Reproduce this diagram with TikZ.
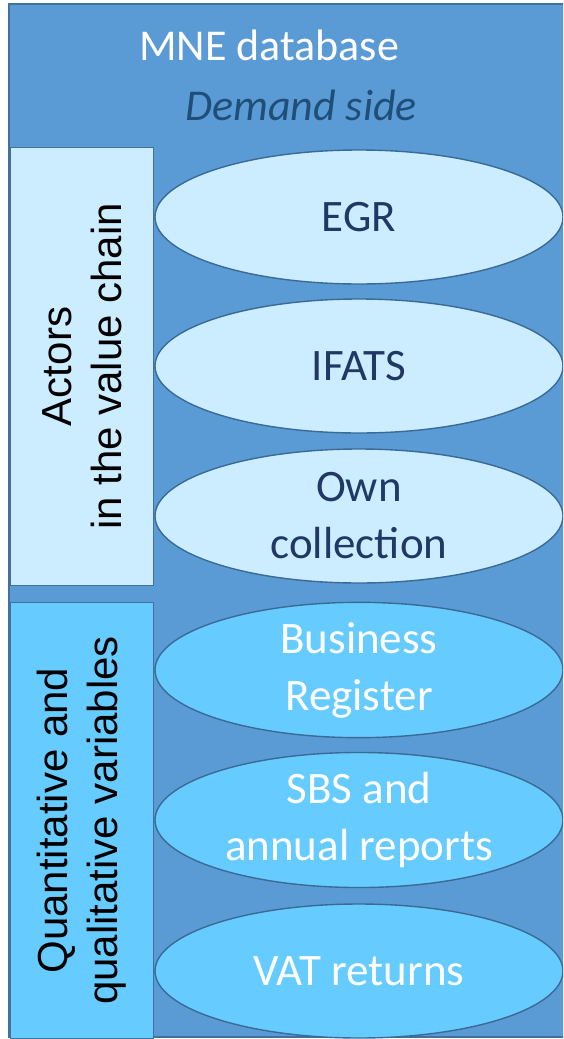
\documentclass[tikz,border=0pt]{standalone}
\usepackage{fontspec}
\setmainfont{Carlito}
\newfontfamily\arialfont{Liberation Sans}
\usetikzlibrary{shapes.geometric}
\definecolor{outerfill}{HTML}{5B9BD5}
\definecolor{outerline}{HTML}{41719C}
\definecolor{lightfill}{HTML}{CCECFF}
\definecolor{brightfill}{HTML}{66CCFF}
\definecolor{ellline}{HTML}{3A6A96}
\definecolor{navytext}{HTML}{203864}
\definecolor{demandtext}{HTML}{1F4E79}
\tikzset{
  oval/.style={ellipse, draw=ellline, line width=1.4pt, minimum width=408pt, minimum height=134pt, inner sep=0pt, align=center, font=\fontsize{45}{57}\selectfont},
  lightoval/.style={oval, fill=lightfill, text=navytext},
  brightoval/.style={oval, fill=brightfill, text=white},
  sidebox/.style={draw=outerline, line width=1pt, minimum width=143pt, inner sep=0pt},
  sidelabel/.style={rotate=90, align=center, font=\arialfont\fontsize{42}{50}\selectfont, text=black},
}
\begin{document}
\begin{tikzpicture}[x=1pt,y=-1pt]
\useasboundingbox (0,0) rectangle (563,1039);
\begin{scope}
\clip (0,0) rectangle (563,1039);
\fill[white] (0,0) rectangle (563,1039);
\coordinate (outernw) at (9,4);
\coordinate (outerse) at (640,1037);
\path[draw=outerline, fill=outerfill, line width=2pt] (outernw) rectangle (outerse);
\node[anchor=base, text=white, font=\fontsize{44}{50}\selectfont] (title) at (269,60) {MNE database};
\node[anchor=base, text=demandtext, font=\itshape\fontsize{44}{50}\selectfont] (demand) at (301,120) {Demand side};
\node[sidebox, fill=lightfill, minimum height=438pt, anchor=north west] (actorsbox) at (10,147) {};
\node[sidelabel] (actorslabel) at (actorsbox.center) {Actors\\in the value chain};
\node[sidebox, fill=brightfill, minimum height=436pt, anchor=north west] (quantbox) at (10,602) {};
\node[sidelabel] (quantlabel) at (quantbox.center) {Quantitative and\\qualitative variables};
\node[lightoval] (egr) at (359,217) {EGR};
\node[lightoval] (ifats) at (359,366) {IFATS};
\node[lightoval] (own) at (359,516) {Own\\collection};
\node[brightoval] (br) at (359,670) {Business\\Register};
\node[brightoval] (sbs) at (359,820) {SBS and\\annual reports};
\node[brightoval] (vat) at (359,971) {VAT returns};
\end{scope}
\end{tikzpicture}
\end{document}
